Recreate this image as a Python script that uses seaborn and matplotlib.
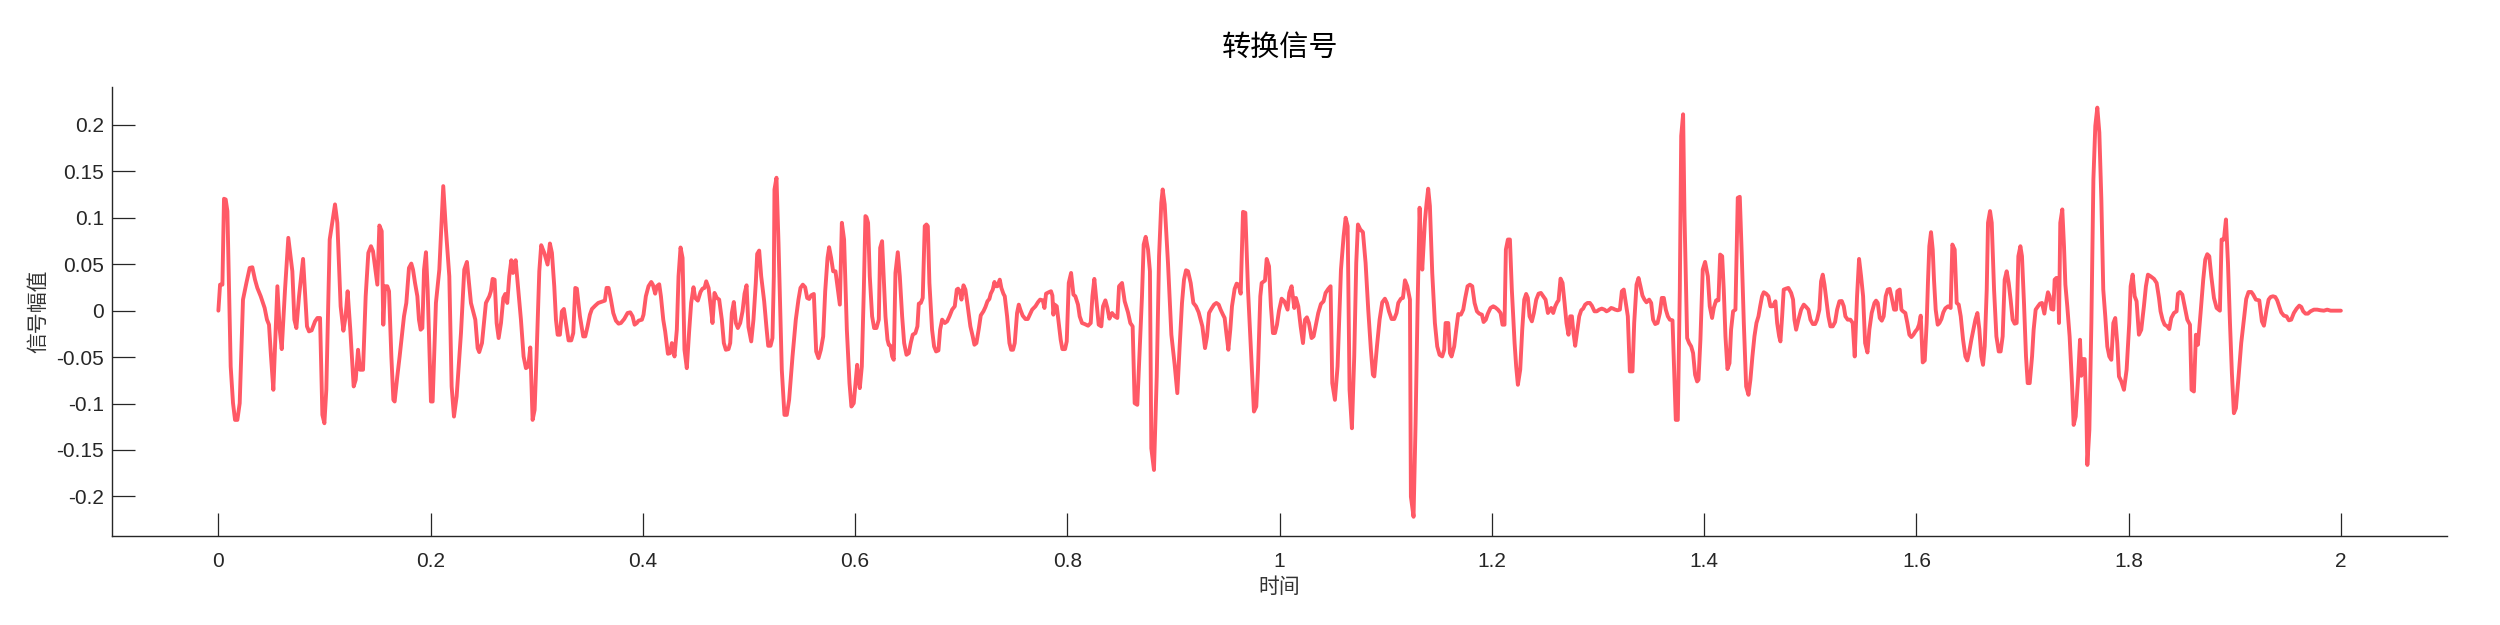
import numpy as np
import pandas as pd
import matplotlib
matplotlib.use("Agg")
import matplotlib.pyplot as plt
import seaborn as sns

# ---- data: time in ms, amplitude in units of 1e-3 ----
time_ms_1 = [0, 1.6, 3.8, 5.3, 6.9, 8.5, 11.6, 13.8, 15.7, 17.9, 20.1, 23.2, 26.4, 29.5, 32.0, 34.5, 36.7, 39.9, 43.6, 45.8,
             47.7, 49.6, 51.8, 55.6, 57.8, 59.7, 62.8, 65.9, 69.7, 71.6, 73.5, 76.0, 79.8, 83.5, 85.4, 87.9, 91.1, 93.3, 95.8, 98.0,
             99.9, 101.7, 104.9, 109.9, 112.1, 115.2, 117.8, 119.9, 121.8, 124.3, 127.5, 129.4, 131.6, 133.5, 136.3, 138.8, 141.3, 143.8, 145.7, 149.8,
             151.7, 153.9, 155.4, 157.0, 159.2, 160.8, 163.0, 164.9, 166.1, 168.6, 170.8, 174.9, 177.1, 179.6, 181.8, 183.4, 185.3, 187.5, 189.0, 190.6,
             192.2, 193.8]
amp_1 = [0, 28.0, 28.0, 120.5, 119.7, 107.2, -60.1, -99.6, -117.6, -117.6, -99.6, 11.9, 29.8, 46.0, 46.7, 33.4, 24.5, 15.5, 2.9, -9.7,
         -15.1, -49.3, -85.2, 26.3, -20.5, -41.4, 22.7, 78.4, 42.4, -9.7, -18.7, 15.5, 55.7, -16.9, -22.3, -21.2, -11.5, -7.9, -7.9, -112.2,
         -121.2, -85.2, 76.6, 114.4, 94.6, 4.7, -21.6, -6.1, 20.9, -20.5, -81.6, -74.4, -42.1, -63.6, -63.6, 15.5, 62.2, 69.4, 64.0, 28.0,
         91.7, 85.6, -15.1, 26.3, 26.3, 20.9, -49.3, -96.0, -97.8, -70.8, -49.3, -6.1, 8.3, 46.0, 50.7, 44.2, 29.8, 15.5, -9.7, -20.5,
         -18.7, 44.2]

time_ms_2 = [195.6, 197.2, 200.3, 201.9, 205.0, 208.2, 211.9, 214.4, 217.6, 219.8, 222.0, 224.5, 228.6, 231.7, 234.2, 238.0, 242.1, 244.3, 245.8, 248.4,
             252.1, 255.3, 256.8, 258.4, 260.3, 262.2, 264.1, 266.3, 268.5, 270.3, 272.2, 274.1, 276.0, 277.6, 280.1, 282.0, 285.1, 287.6, 289.8, 292.0,
             293.9, 296.1, 298.0, 299.8, 302.4, 304.2, 307.1, 310.2, 312.4, 314.3, 316.5, 318.1, 319.7, 321.8, 323.7, 325.6, 327.5, 330.0, 332.5, 334.4,
             336.3, 337.8, 340.7, 343.8, 345.7, 347.9, 350.1, 352.0, 355.1, 357.9, 361.4, 364.2, 365.8, 367.7, 369.9, 372.1, 374.6, 377.1, 379.3, 382.4,
             385.6, 388.1, 390.3]
amp_2 = [62.9, 22.7, -97.8, -97.8, 8.3, 44.2, 134.1, 87.4, 37.0, -81.6, -114.0, -92.4, -24.1, 44.2, 52.5, 8.3, -9.7, -40.3, -44.6, -34.9,
         8.3, 15.5, 20.9, 34.2, 33.4, -13.3, -29.5, -13.3, 13.7, 18.0, 8.3, 37.0, 54.3, 40.6, 54.3, 29.8, -9.7, -49.3, -61.9, -60.1,
         -39.6, -117.6, -106.8, -49.3, 42.4, 70.5, 62.2, 49.6, 72.3, 62.2, 26.3, -9.7, -25.9, -25.9, -0.7, 1.8, -13.3, -32.0, -32.0, -24.1,
         24.5, 23.7, -6.1, -27.7, -27.7, -16.9, -4.3, 1.8, 5.4, 8.3, 9.7, 10.8, 24.5, 24.5, 11.9, -2.5, -10.8, -14.0, -13.3, -9.0,
         -2.5, -1.8, -6.1]

time_ms_3 = [392.2, 394.3, 395.9, 399.1, 400.6, 402.8, 405.3, 407.9, 409.4, 411.6, 413.2, 415.4, 417.0, 419.2, 421.0, 423.6, 425.7, 427.3, 428.3, 429.8,
             432.0, 433.6, 435.5, 437.4, 439.2, 441.4, 443.6, 445.5, 447.7, 449.3, 451.8, 454.3, 456.2, 458.1, 459.7, 461.9, 464.1, 465.6, 467.5, 469.7,
             471.9, 474.4, 476.3, 478.2, 480.7, 482.3, 483.8, 485.7, 487.6, 489.5, 491.7, 493.9, 495.8, 497.7, 499.5, 502.1, 504.2, 506.4, 507.7, 509.6,
             511.5, 514.3, 516.5, 518.1, 520.3, 522.1, 523.4, 524.0, 525.9, 527.8, 530.9, 533.4, 535.6, 537.8, 541.0, 544.1, 546.6, 548.5, 550.7, 552.9,
             554.8, 556.7, 558.6, 561.1, 563.3, 565.5, 567.7, 569.9, 571.8, 574.0, 575.5, 577.4, 579.3, 581.5, 583.7, 585.6, 587.5]
amp_3 = [-15.1, -13.3, -10.8, -9.7, -4.3, 15.5, 26.3, 30.9, 28.0, 18.3, 26.3, 28.4, 15.5, -9.7, -22.3, -46.4, -45.7, -34.9, -38.5, -49.3,
         -20.5, 37.0, 68.0, 56.8, -42.1, -61.9, -22.3, 8.3, 25.2, 13.7, 10.8, 20.1, 23.7, 24.5, 31.6, 24.5, 2.9, -13.3, 19.1, 13.7,
         11.9, -9.7, -34.9, -42.1, -41.4, -34.9, -2.5, 9.3, -13.3, -18.7, -13.3, -0.7, 18.3, 27.3, -17.6, -33.1, -9.7, 29.8, 61.1, 64.7,
         37.0, 10.1, -18.7, -37.8, -37.8, -29.5, 37.0, 130.5, 143.1, 73.0, -63.6, -112.2, -112.2, -96.0, -49.3, -9.7, 11.9, 24.5, 28.0, 25.2,
         13.7, 12.6, 16.5, 18.0, -43.9, -51.1, -42.1, -27.7, 20.9, 56.8, 68.3, 56.8, 42.4, 42.4, 22.7, 6.5, 94.6]

time_ms_4 = [589.6, 592.2, 594.7, 596.5, 598.7, 600.9, 601.9, 602.8, 604.4, 606.3, 608.2, 609.7, 610.7, 612.2, 613.8, 616.0, 617.9, 620.1, 622.3, 623.6,
             625.4, 627.0, 628.6, 630.5, 631.7, 633.3, 634.9, 636.4, 638.0, 640.2, 642.1, 644.3, 646.2, 648.4, 650.6, 652.4, 654.3, 656.8, 658.7, 660.0,
             661.9, 663.7, 665.6, 667.2, 668.5, 670.0, 672.5, 674.4, 676.3, 678.5, 680.1, 682.0, 684.5, 686.7, 688.9, 691.4, 693.9, 695.8, 697.0, 698.6,
             700.2, 702.1, 703.9, 706.1, 708.6, 710.8, 712.4, 714.3, 716.5, 718.4, 720.9, 722.8, 724.7, 726.5, 727.8, 729.7, 731.3, 732.2, 734.1, 736.3,
             737.8, 739.7, 741.0, 743.2, 745.4, 747.0, 748.8, 750.4, 752.6, 754.2, 755.7, 757.9, 760.5, 762.7, 764.6, 766.8, 769.9, 772.4, 774.3, 776.8,
             778.4, 779.9, 782.4, 784.6, 785.9]
amp_4 = [76.6, -20.5, -78.0, -103.2, -99.6, -70.8, -58.3, -70.8, -83.4, -60.1, 22.7, 101.8, 100.7, 94.6, 37.0, -6.1, -18.7, -18.7, -9.7, 67.6,
         74.8, 33.4, -6.1, -31.3, -36.7, -37.8, -49.3, -52.9, 40.6, 62.9, 37.0, -6.1, -34.9, -47.5, -45.7, -34.9, -25.9, -24.1, -16.9, 7.6,
         8.3, 13.7, 91.0, 92.8, 91.0, 29.8, -20.5, -38.5, -43.9, -42.8, -20.5, -9.7, -13.3, -11.5, -6.1, 1.1, 4.7, 22.7, 23.7, 20.9,
         11.9, 27.3, 22.7, 4.7, -16.9, -27.7, -36.7, -34.9, -19.8, -5.0, -0.7, 4.0, 10.1, 12.6, 18.3, 22.7, 30.9, 26.3, 26.3, 33.4,
         24.5, 18.3, 15.5, -6.1, -34.9, -42.1, -42.1, -34.9, -2.5, 6.5, 1.1, -5.4, -9.0, -9.0, -4.3, 1.1, 4.7, 9.3, 11.9, 11.1,
         2.9, 18.3, 19.8, 20.9, 16.2]

time_ms_5 = [786.8, 788.1, 790.0, 791.8, 793.7, 795.3, 797.8, 799.4, 801.3, 803.5, 805.7, 807.5, 810.0, 811.6, 813.8, 816.3, 819.5, 822.0, 823.6, 825.4,
             827.9, 829.5, 832.0, 833.6, 835.8, 837.7, 839.6, 842.1, 844.6, 847.1, 848.7, 851.5, 854.0, 857.1, 859.3, 861.5, 863.4, 865.9, 868.1, 870.3,
             871.9, 873.8, 876.0, 877.8, 879.1, 881.6, 884.2, 886.4, 888.5, 889.8, 891.7, 894.8, 898.0, 901.1, 903.6, 905.8, 908.0, 909.9, 911.8, 913.7,
             916.2, 918.7, 921.2, 923.7, 927.2, 929.7, 931.6, 933.5, 935.6, 938.2, 940.4, 942.6, 944.4, 946.6, 948.2, 949.8, 951.7, 953.5, 955.1, 957.6,
             959.5, 961.4, 963.3, 965.5, 967.7, 970.2, 972.7, 975.8, 978.0, 979.6, 981.8, 983.1]
amp_5 = [-4.3, 6.5, 4.7, -13.3, -31.3, -41.4, -41.4, -33.1, 29.8, 40.6, 17.3, 15.5, 6.5, -6.1, -13.3, -14.4, -16.2, -13.3, 15.5, 34.2,
         4.7, -15.1, -16.9, 4.7, 11.1, 2.9, -8.6, -2.5, -6.1, -7.9, 26.3, 29.8, 10.1, -1.8, -13.3, -16.9, -99.6, -101.4, -42.1, 15.5,
         71.2, 79.5, 65.8, 42.4, -148.2, -171.5, -70.8, 58.6, 116.2, 130.5, 114.4, 51.4, -25.9, -58.3, -88.8, -38.5, 8.3, 33.4, 43.5, 42.4,
         29.8, 8.3, 4.7, -1.8, -16.9, -40.3, -27.7, -2.5, 1.8, 6.5, 8.3, 6.5, 1.1, -4.3, -7.9, -24.1, -42.1, -20.5, 4.7, 23.4,
         29.1, 28.0, 18.3, 106.4, 105.4, 22.7, -34.9, -108.6, -103.2, -63.6, 15.5, 29.8]

time_ms_6 = [986.2, 987.8, 990.0, 991.8, 993.7, 995.6, 997.5, 999.4, 1001.9, 1004.4, 1007.5, 1009.1, 1011.3, 1013.8, 1015.4, 1017.6, 1019.8, 1022.0, 1023.9, 1025.7,
             1027.6, 1030.1, 1032.0, 1033.9, 1036.4, 1038.9, 1041.4, 1043.3, 1045.8, 1048.0, 1049.6, 1052.1, 1054.6, 1057.8, 1060.3, 1062.2, 1064.1, 1065.9, 1068.1, 1070.3,
             1072.2, 1073.8, 1076.0, 1078.5, 1081.0, 1083.5, 1086.0, 1087.9, 1089.2, 1091.7, 1094.2, 1096.7, 1099.2, 1101.1, 1103.0, 1105.5, 1108.0, 1110.2, 1111.8, 1114.3,
             1116.2, 1118.1, 1120.3, 1122.8, 1123.7, 1126.2, 1128.1, 1130.0, 1131.9, 1133.1, 1134.4, 1136.9, 1138.5, 1140.0, 1141.6, 1143.8, 1146.3, 1148.5, 1150.7, 1153.2,
             1155.1, 1156.4, 1158.9, 1160.5, 1162.0, 1164.5, 1166.4, 1168.3, 1170.8, 1173.0, 1174.9, 1177.1, 1179.3, 1181.5]
amp_6 = [32.4, 55.7, 47.8, 4.7, -24.1, -24.1, -15.1, 0, 12.9, 10.1, 1.1, 19.1, 26.3, 2.9, 13.7, 4.7, -16.9, -34.9, -9.7, -7.2,
         -13.3, -29.5, -27.7, -16.9, -2.5, 7.2, 10.1, 19.1, 23.4, 26.3, -78.0, -96.0, -60.1, 44.2, 80.2, 100.0, 91.0, -85.2, -126.6, -49.3,
         51.4, 92.8, 87.4, 84.5, 51.4, 1.1, -42.1, -69.0, -70.8, -38.5, -9.7, 9.0, 12.9, 8.3, -0.7, -9.0, -9.0, -2.5, 8.3, 12.9,
         13.7, 32.7, 26.3, 11.9, -200.3, -221.9, -121.2, 4.7, 110.8, 69.4, 44.2, 96.4, 116.2, 131.3, 112.6, 40.6, -13.3, -38.5, -47.5, -49.3,
         -42.1, -13.3, -13.3, -45.7, -49.3, -38.5, -20.5, -3.6, -4.3, 1.1, 13.7, 26.3, 28.0, 26.3]

time_ms_7 = [1183.7, 1185.9, 1188.1, 1190.6, 1192.2, 1194.3, 1196.2, 1198.7, 1201.3, 1203.1, 1205.7, 1208.2, 1210.0, 1211.9, 1213.2, 1215.1, 1217.0, 1218.8, 1221.4, 1222.9,
             1224.5, 1226.7, 1228.6, 1230.5, 1232.3, 1233.9, 1235.5, 1237.7, 1239.6, 1241.8, 1244.0, 1246.2, 1248.4, 1250.6, 1252.8, 1254.6, 1255.9, 1257.8, 1259.7, 1261.5,
             1262.8, 1264.7, 1266.6, 1268.5, 1270.3, 1272.2, 1273.8, 1275.4, 1276.9, 1278.5, 1280.4, 1282.3, 1284.2, 1286.0, 1287.9, 1290.1, 1292.3, 1294.2, 1296.7, 1298.9,
             1301.1, 1303.6, 1306.1, 1308.0, 1309.9, 1312.4, 1314.3, 1316.2, 1318.4, 1320.6, 1322.5, 1324.3, 1326.2, 1328.1, 1330.0, 1332.5, 1334.1, 1336.3, 1338.2, 1340.0,
             1341.9, 1343.8, 1345.7, 1348.2, 1350.1, 1351.9, 1353.9, 1356.1, 1358.3, 1360.1, 1362.0, 1363.9, 1365.8, 1367.7, 1370.2, 1371.8, 1373.3, 1375.2, 1377.1, 1378.4,
             1380.2]
amp_7 = [8.3, -0.7, -3.2, -4.3, -12.2, -9.7, -3.2, 2.9, 4.7, 3.6, 1.1, -2.5, -15.1, -15.1, 65.8, 76.6, 76.6, 22.7, -34.9, -60.1,
         -79.8, -63.6, -20.5, 11.9, 18.0, 13.7, -6.1, -11.5, -2.5, 11.9, 18.3, 19.1, 15.5, 11.9, -2.5, 0.4, 2.9, -2.5, 4.7, 9.0,
         11.1, 34.5, 29.8, 8.3, -13.3, -25.9, -6.1, -6.1, -24.1, -37.8, -22.3, -6.1, 0.4, 2.2, 6.5, 8.3, 8.3, 5.4, -0.7, -0.7,
         1.1, 2.2, 1.1, -0.7, 0.4, 2.9, 2.2, 1.1, 0.4, 1.1, 20.9, 22.7, 8.3, -6.1, -65.4, -65.4, -13.3, 28.0, 35.2, 26.3,
         16.2, 11.9, 9.0, 11.9, 8.3, -9.7, -14.4, -13.3, -2.5, 13.7, 13.7, 1.1, -6.1, -9.7, -10.4, -67.2, -117.6, -117.6, 22.7, 188.1,
         211.4]

time_ms_8 = [1381.5, 1384.0, 1385.9, 1387.8, 1389.6, 1391.5, 1393.4, 1394.7, 1396.5, 1398.7, 1400.9, 1403.5, 1405.3, 1407.5, 1409.1, 1411.3, 1413.5, 1415.1, 1417.0, 1418.5,
             1420.1, 1422.0, 1423.9, 1425.4, 1427.3, 1429.5, 1431.7, 1433.6, 1435.5, 1437.4, 1439.6, 1441.8, 1443.6, 1445.5, 1447.4, 1449.3, 1451.2, 1452.8, 1454.6, 1456.2,
             1458.4, 1460.6, 1462.5, 1464.7, 1467.2, 1468.8, 1470.7, 1471.9, 1473.5, 1475.0, 1477.2, 1479.4, 1482.0, 1483.8, 1485.1, 1486.7, 1488.9, 1491.4, 1493.9, 1496.1,
             1498.3, 1500.2, 1502.4, 1504.6, 1506.4, 1508.6, 1510.2, 1511.8, 1513.4, 1515.9, 1517.1, 1519.0, 1521.2, 1523.4, 1525.3, 1527.5, 1529.7, 1531.6, 1533.1, 1535.3,
             1537.8, 1540.0, 1541.9, 1544.1, 1546.0, 1547.9, 1549.8, 1551.7, 1553.9, 1555.7, 1557.9, 1560.5, 1562.0, 1563.6, 1565.5, 1567.4, 1569.2, 1571.1, 1573.0, 1574.9,
             1576.8]
amp_8 = [101.8, -29.5, -34.9, -38.5, -45.7, -69.0, -76.2, -74.4, -31.3, 44.2, 52.5, 37.0, 4.7, -7.9, 2.9, 11.1, 11.1, 60.4, 58.6, 22.7,
         -27.7, -62.9, -56.5, -20.5, -0.7, 1.1, 121.5, 122.6, 58.6, -13.3, -81.6, -90.6, -74.4, -49.3, -27.7, -13.3, -6.1, 4.7, 15.5, 19.8,
         18.3, 15.5, 4.7, 4.7, 10.1, -13.3, -27.7, -33.1, -6.1, 22.7, 23.7, 24.5, 19.1, 11.9, -9.7, -20.5, -9.7, 1.1, 6.5, 4.0,
         1.1, -9.7, -14.4, -14.4, -9.7, 1.1, 31.6, 38.8, 28.0, 4.7, -6.1, -16.9, -16.9, -12.2, 1.1, 10.1, 10.4, 4.7, -6.1, -9.7,
         -9.7, -13.3, -49.3, 15.5, 55.7, 37.0, 15.5, -34.9, -45.0, -20.5, -2.5, 8.3, 10.8, 8.3, -7.9, -10.8, -6.1, 15.5, 22.7, 23.4,
         13.7]

time_ms_9 = [1579.0, 1580.8, 1582.1, 1584.3, 1585.9, 1587.4, 1589.6, 1591.5, 1593.4, 1595.3, 1597.2, 1599.1, 1600.9, 1602.5, 1604.1, 1606.0, 1607.9, 1609.7, 1611.0, 1612.2,
             1613.8, 1615.4, 1616.6, 1618.2, 1620.1, 1621.7, 1623.6, 1625.4, 1627.3, 1629.8, 1632.3, 1633.9, 1636.1, 1638.0, 1639.9, 1641.8, 1644.0, 1646.2, 1648.0, 1649.6,
             1651.8, 1653.7, 1655.6, 1657.5, 1659.3, 1661.2, 1662.8, 1664.4, 1666.3, 1667.5, 1669.4, 1671.0, 1673.2, 1675.4, 1677.6, 1679.4, 1681.3, 1683.2, 1685.1, 1687.0,
             1688.8, 1690.7, 1692.6, 1694.5, 1696.1, 1698.0, 1699.5, 1701.4, 1703.3, 1704.9, 1706.8, 1709.0, 1710.5, 1712.4, 1714.6, 1716.5, 1718.4, 1720.6, 1722.1, 1724.0,
             1725.6, 1727.2, 1729.1, 1730.3, 1731.9, 1733.5, 1734.4, 1735.6, 1737.5, 1739.1, 1740.4, 1742.2, 1744.4, 1746.6, 1748.2, 1750.1, 1752.3, 1754.2, 1755.4, 1757.0,
             1758.6, 1760.1, 1761.1, 1763.0, 1764.9, 1766.8, 1768.6, 1770.5, 1772.4, 1774.3]
amp_9 = [1.1, 1.1, 20.9, 22.7, 1.1, -0.7, -2.5, -13.3, -25.9, -28.4, -25.9, -22.3, -19.8, -15.1, -5.4, -55.7, -53.6, -13.3, 33.4, 69.4,
         84.5, 65.8, 33.4, 1.1, -15.1, -13.3, -9.0, -1.8, 2.5, 4.7, 2.9, 71.2, 65.8, 8.3, 6.5, -6.1, -31.3, -49.3, -53.6, -45.7,
         -31.3, -20.5, -9.7, -2.5, -19.8, -49.3, -58.3, -38.5, 22.7, 94.6, 107.2, 94.6, 22.7, -27.7, -43.9, -43.9, -27.7, 33.4, 42.4, 29.8,
         11.9, -9.7, -14.0, -13.3, 58.6, 69.4, 58.6, 8.3, -49.3, -78.0, -78.0, -49.3, -20.5, 1.1, 4.7, 7.6, 8.3, -3.2, 8.3, 19.8,
         15.5, 1.8, 1.1, 33.4, 35.2, 35.2, -13.3, 94.6, 109.0, 69.4, 28.0, 4.7, -27.7, -78.0, -123.0, -114.0, -74.4, -31.3, -70.1, -52.1,
         -52.1, -103.2, -166.1, -128.4, -13.3, 141.3, 198.9, 218.6, 191.7, 119.7]

time_ms_10 = [1776.1, 1778.0, 1779.9, 1781.8, 1783.7, 1785.6, 1787.4, 1789.3, 1790.9, 1793.1, 1795.6, 1798.1, 1800.6, 1801.9, 1803.8, 1805.7, 1807.5, 1809.7, 1811.9, 1814.4,
              1816.3, 1818.2, 1820.7, 1823.9, 1826.4, 1828.6, 1830.1, 1832.0, 1833.9, 1836.4, 1838.3, 1840.2, 1842.7, 1845.2, 1846.5, 1848.4, 1850.6, 1852.8, 1855.3, 1857.8,
              1859.3, 1861.5, 1863.4, 1865.3, 1867.8, 1870.3, 1872.2, 1874.1, 1876.0, 1877.9, 1880.4, 1882.9, 1886.0, 1887.6, 1889.8, 1891.7, 1893.6, 1895.5, 1897.3, 1899.2,
              1901.1, 1903.6, 1906.1, 1908.6, 1910.8, 1913.0, 1915.6, 1917.4, 1919.9, 1923.1, 1925.6, 1927.5, 1930.0, 1931.9, 1933.8, 1936.0, 1938.2, 1940.0, 1941.9, 1943.8,
              1946.3, 1948.8, 1951.0, 1953.2, 1955.7, 1958.3, 1960.8, 1962.7, 1964.5, 1966.7, 1968.9, 1971.4, 1974.6, 1977.7, 1980.9, 1984.0, 1987.1, 1990.3, 1995.0, 2000.0]
amp_10 = [22.7, -6.1, -38.5, -49.3, -52.9, -13.3, -7.9, -34.9, -70.8, -76.2, -85.2, -63.6, -13.3, 26.3, 38.8, 15.5, 10.1, -25.9, -20.5, 4.7,
          26.3, 38.8, 37.0, 34.2, 29.8, 13.7, -0.7, -9.7, -15.1, -16.9, -19.8, -7.9, -2.5, -0.7, 18.3, 20.1, 17.3, 4.7, -9.7, -15.1,
          -85.2, -87.0, -25.9, -36.7, -2.5, 33.4, 55.0, 60.8, 58.6, 37.0, 13.7, 2.9, 0, 76.6, 76.6, 98.2, 51.4, -13.3, -67.2, -110.4,
          -105.0, -70.8, -34.9, -9.7, 12.6, 20.1, 20.1, 17.3, 11.9, 11.1, -11.5, -16.2, 1.1, 11.9, 14.7, 15.5, 14.7, 11.1, 4.7, -1.8,
          -5.4, -6.1, -10.4, -9.7, -2.5, 2.2, 5.4, 4.0, -0.7, -3.2, -3.2, -0.7, 1.1, 1.1, 0.4, 0, 1.1, 0, 0, 0]

x_ticks = [0, 0.2, 0.4, 0.6, 0.8, 1.0, 1.2, 1.4, 1.6, 1.8, 2.0]
x_tick_labels = ["0", "0.2", "0.4", "0.6", "0.8", "1", "1.2", "1.4", "1.6", "1.8", "2"]
y_ticks = [-0.2, -0.15, -0.1, -0.05, 0, 0.05, 0.1, 0.15, 0.2]
y_tick_labels = ["-0.2", "-0.15", "-0.1", "-0.05", "0", "0.05", "0.1", "0.15", "0.2"]

title_text = "转换信号"
x_label = "时间"
y_label = "信号幅值"

# ---- assemble ----
t_all = np.concatenate([time_ms_1, time_ms_2, time_ms_3, time_ms_4, time_ms_5,
                        time_ms_6, time_ms_7, time_ms_8, time_ms_9, time_ms_10]) / 1000.0
a_all = np.concatenate([amp_1, amp_2, amp_3, amp_4, amp_5,
                        amp_6, amp_7, amp_8, amp_9, amp_10]) / 1000.0
df = pd.DataFrame({"t": t_all, "amp": a_all})

sns.set_style("white")
plt.rcParams["font.family"] = ["Liberation Sans", "Noto Sans CJK SC", "DejaVu Sans"]

fig = plt.figure(figsize=(25, 6.25), dpi=100)
ax = fig.add_axes([0.0449, 0.1418, 0.9339, 0.7193])

sns.lineplot(data=df, x="t", y="amp", ax=ax, estimator=None, sort=False,
             color="#FF5966", linewidth=2.8)

ax.set_xlim(-0.1, 2.1)
ax.set_ylim(-0.243, 0.241)
ax.set_xticks(x_ticks)
ax.set_xticklabels(x_tick_labels)
ax.set_yticks(y_ticks)
ax.set_yticklabels(y_tick_labels)

for side in ["top", "right"]:
    ax.spines[side].set_visible(False)
for side in ["left", "bottom"]:
    ax.spines[side].set_color("#262626")
    ax.spines[side].set_linewidth(1.0)

ax.tick_params(axis="both", which="major", bottom=True, left=True,
               top=False, right=False, direction="in", length=16.5, width=0.9,
               color="#262626", labelcolor="#262626", labelsize=15)
ax.tick_params(axis="x", pad=11)
ax.tick_params(axis="y", pad=6)

ax.set_xlabel(x_label, fontsize=15, color="#333333", family=["Noto Sans CJK SC"])
ax.set_ylabel(y_label, fontsize=15, color="#333333", family=["Noto Sans CJK SC"])
ax.xaxis.set_label_coords(0.5, -0.1125)
ax.xaxis.label.set_verticalalignment("center")
ax.yaxis.set_label_coords(-0.0318, 0.5)
ax.yaxis.label.set_verticalalignment("center")

ax.set_title(title_text, fontsize=21, color="black", pad=22,
             family=["Noto Sans CJK SC"], fontweight="medium")

fig.savefig("out.png", dpi=100, facecolor="white")
